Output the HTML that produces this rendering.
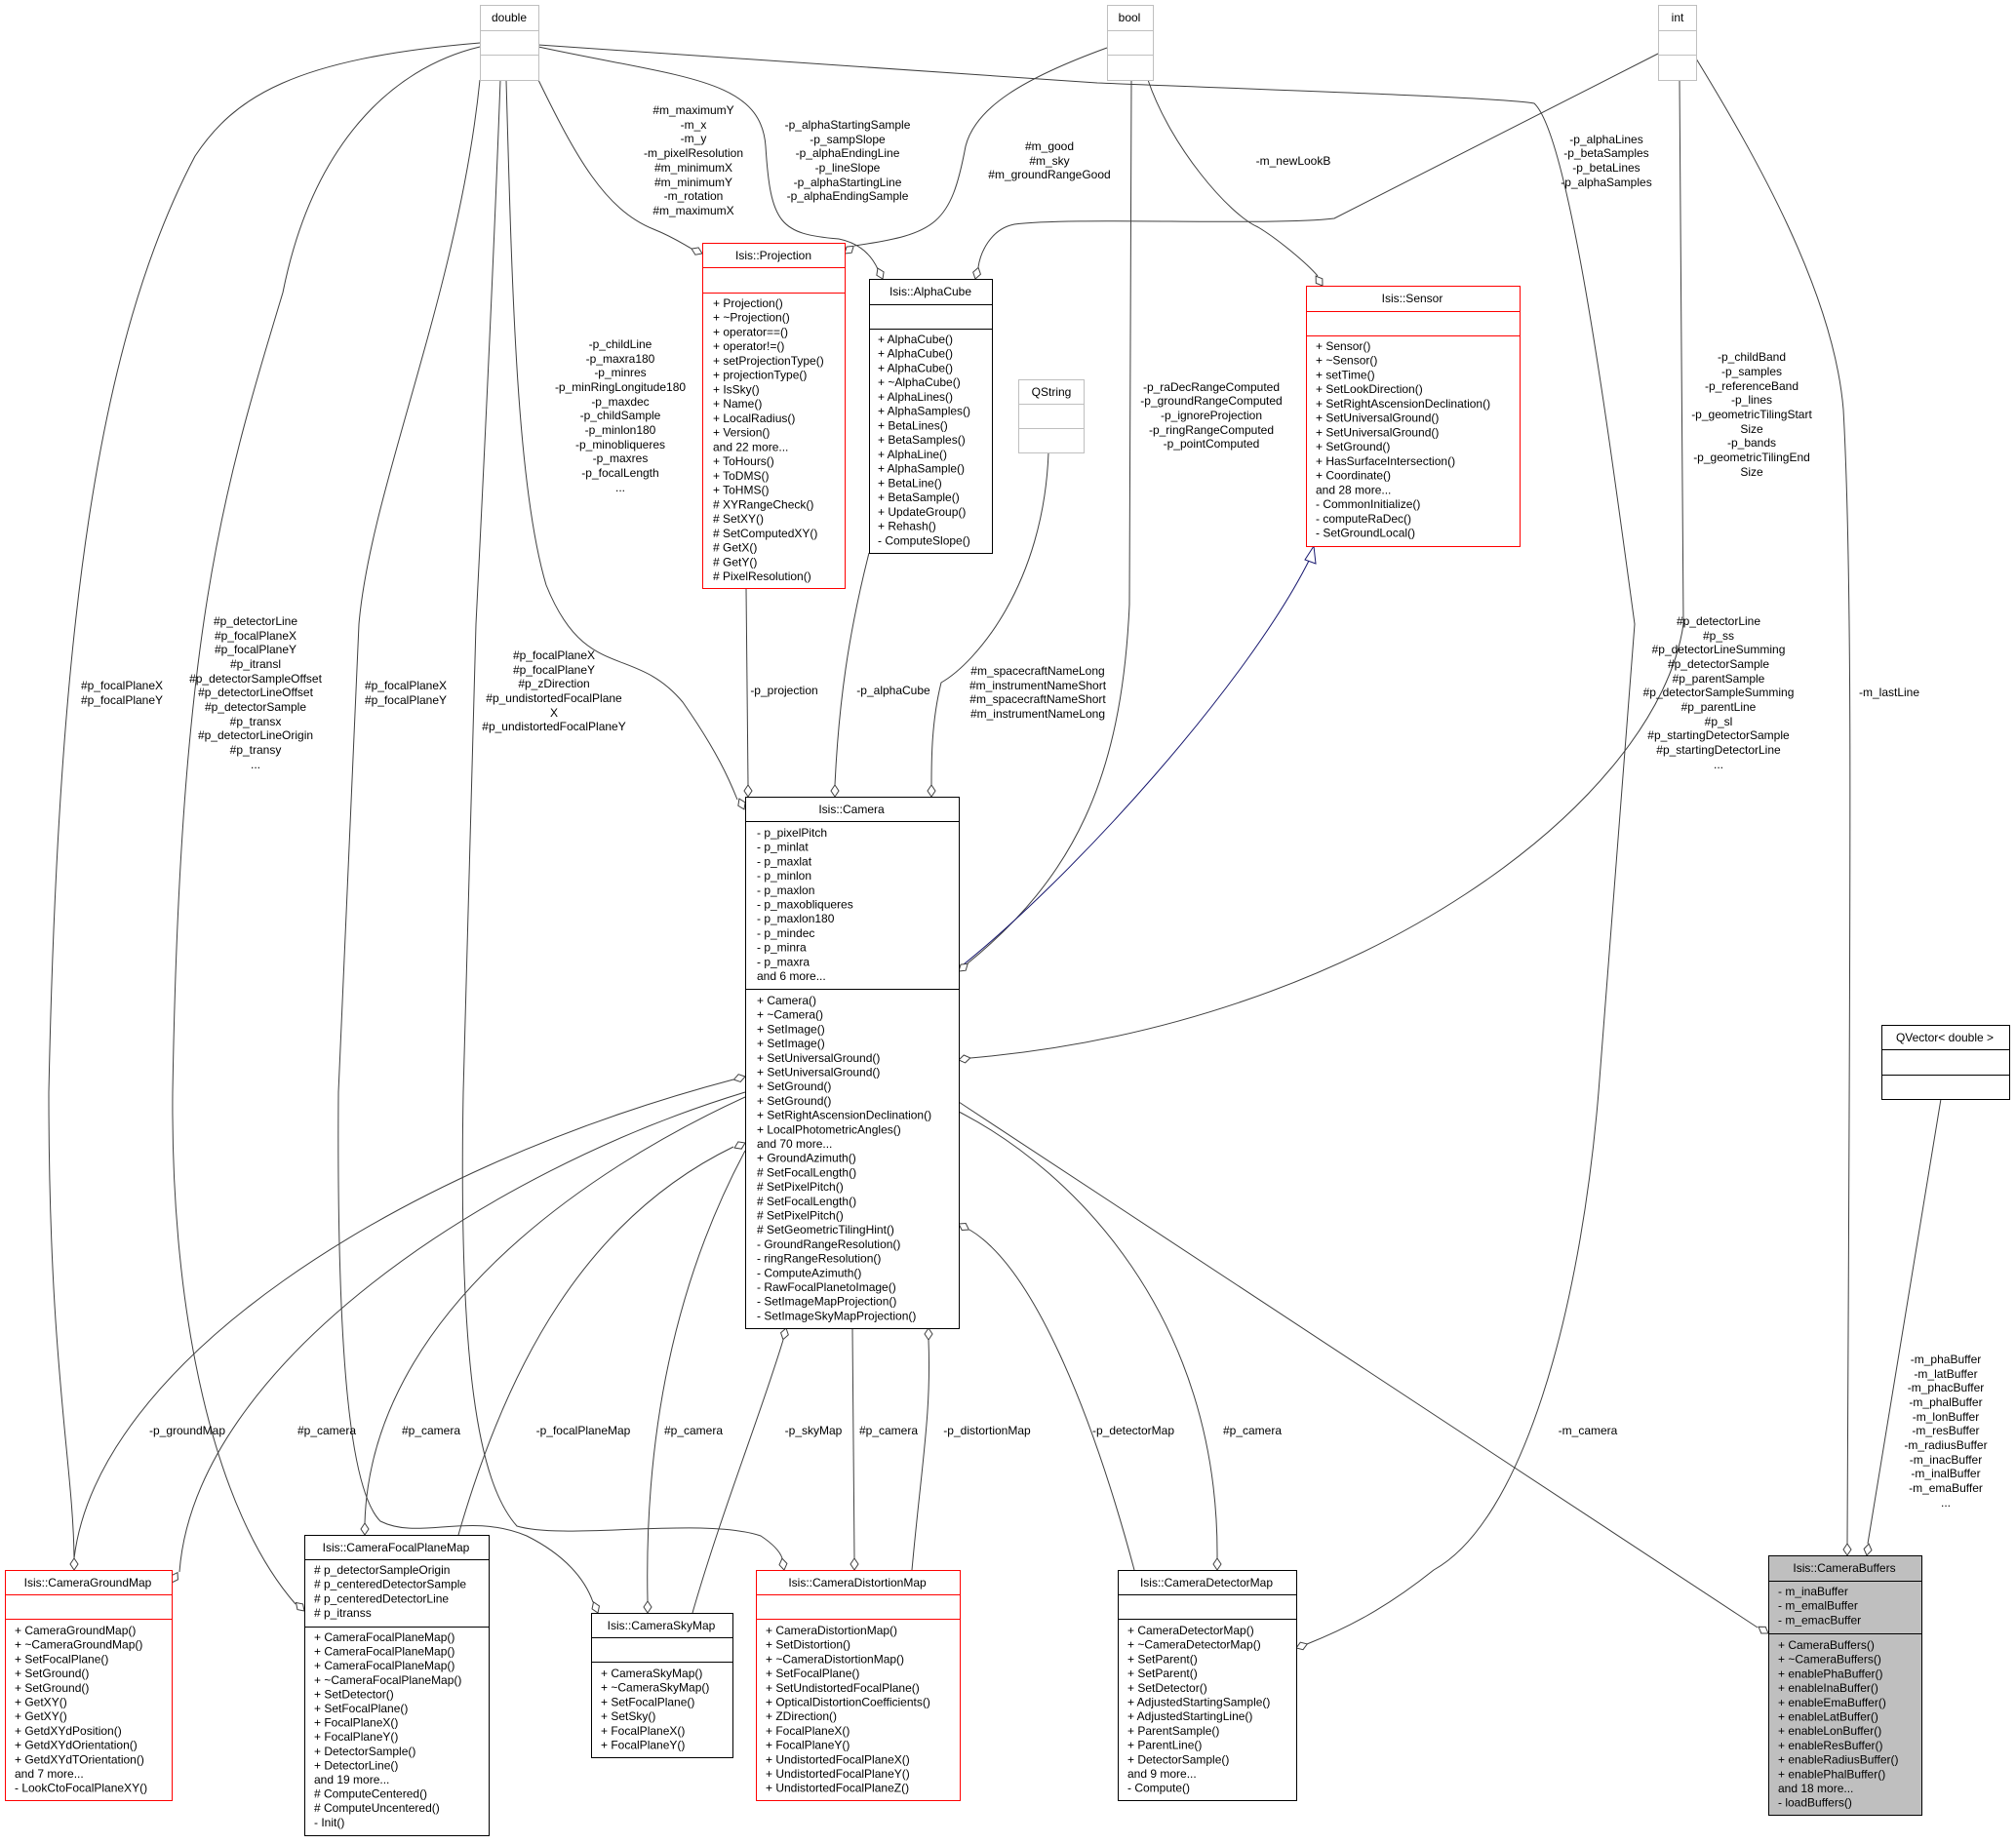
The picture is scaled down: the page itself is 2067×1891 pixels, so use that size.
<!DOCTYPE html>
<html><head><meta charset="utf-8"><style>
body{margin:0;background:#fff}
svg{display:block}
text{font-family:"Liberation Sans",Arial,sans-serif;font-size:12px;fill:#000}
.e{fill:none;stroke:#404040;stroke-width:1}
.d{fill:#fff;stroke:#404040;stroke-width:1}
.m{text-anchor:middle}
</style></head><body>
<svg width="2067" height="1891" viewBox="0 0 2067 1891" xmlns="http://www.w3.org/2000/svg">
<rect width="2067" height="1891" fill="#fff"/>
<!-- connectors -->
<path class="e" d="M552,82 C590,160 620,215 670,235 C690,243 700,250 709,255"/>
<path class="e" d="M552,48 C700,80 780,80 785,150 C790,230 800,240 860,245 C885,250 895,265 900,276"/>
<path class="e" d="M1135,49 C1050,80 1000,110 990,150 C975,230 960,240 876,252"/>
<path class="e" d="M1700,55 L1368,224 C1300,232 1100,222 1040,230 C1015,235 1005,260 1003,274"/>
<path class="e" d="M1177,82 C1200,150 1260,220 1290,233 C1310,245 1340,270 1351,283"/>
<path class="e" d="M552,46 L1125,85 C1300,92 1540,100 1573,106 C1610,140 1650,450 1676,640 L1639,1120 C1620,1350 1560,1560 1470,1610 C1420,1650 1380,1670 1340,1686"/>
<path class="e" d="M1722,82 L1726,640 C1700,820 1400,1050 995,1085"/>
<path class="e" d="M1739,60 C1800,160 1880,300 1890,420 C1900,600 1897,900 1894,1583"/>
<path class="e" d="M1990,1127 L1915,1583"/>
<path class="e" d="M519,82 C525,300 530,500 560,600 C600,700 650,660 700,720 C735,770 748,800 756,820"/>
<path class="e" d="M492,44 C300,60 240,100 200,160 C100,350 60,640 50,1120 C50,1400 75,1500 76,1598"/>
<path class="e" d="M492,48 C400,70 320,150 290,300 C230,500 185,640 177,1120 C175,1350 220,1550 303,1645"/>
<path class="e" d="M492,82 C470,300 380,500 368,640 L347,1120 C345,1400 360,1530 390,1560 C430,1580 480,1550 540,1575 C580,1595 600,1620 608,1643"/>
<path class="e" d="M513,82 C505,300 495,500 488,640 L475,1120 C470,1400 490,1520 530,1565 C580,1580 720,1555 780,1575 C795,1585 800,1592 802,1598"/>
<path class="e" d="M765,603 L767,805"/>
<path class="e" d="M891,567 C870,650 860,720 856,805"/>
<path class="e" d="M1075,464 C1070,600 1000,680 965,700 C955,740 955,780 955,805"/>
<path class="e" d="M1160,82 L1158,620 C1150,800 1100,900 992,988"/>
<path d="M983,993 C1100,900 1280,700 1343,573" fill="none" stroke="#191970"/>
<polygon points="1347,560 1338,574 1349,578" fill="#fff" stroke="#191970"/>
<path class="e" d="M76,1598 C100,1400 400,1200 752,1107"/>
<path class="e" d="M764,1120 C500,1200 200,1400 184,1612"/>
<path class="e" d="M764,1125 C600,1200 380,1350 374,1562"/>
<path class="e" d="M470,1574 C520,1400 600,1250 752,1176"/>
<path class="e" d="M764,1180 C700,1300 660,1450 664,1642"/>
<path class="e" d="M710,1654 C740,1550 780,1450 803,1374"/>
<path class="e" d="M874,1362 L876,1598"/>
<path class="e" d="M935,1610 C945,1500 955,1450 952,1374"/>
<path class="e" d="M1163,1610 C1120,1450 1060,1300 994,1261"/>
<path class="e" d="M983,1140 C1100,1200 1250,1350 1248,1598"/>
<path class="e" d="M983,1130 L1802,1669"/>
<!-- diamonds -->
<g>
<polygon class="d" transform="translate(720,260) rotate(-156)" points="0,0 6,-4 12,0 6,4"/>
<polygon class="d" transform="translate(905,286) rotate(-115)" points="0,0 6,-4 12,0 6,4"/>
<polygon class="d" transform="translate(866,260) rotate(-40)" points="0,0 6,-4 12,0 6,4"/>
<polygon class="d" transform="translate(1000,286) rotate(-75)" points="0,0 6,-4 12,0 6,4"/>
<polygon class="d" transform="translate(1356,293) rotate(-125)" points="0,0 6,-4 12,0 6,4"/>
<polygon class="d" transform="translate(1329,1690) rotate(-20)" points="0,0 6,-4 12,0 6,4"/>
<polygon class="d" transform="translate(983,1087) rotate(-10)" points="0,0 6,-4 12,0 6,4"/>
<polygon class="d" transform="translate(1894,1595) rotate(-90)" points="0,0 6,-4 12,0 6,4"/>
<polygon class="d" transform="translate(1914,1595) rotate(-80)" points="0,0 6,-4 12,0 6,4"/>
<polygon class="d" transform="translate(763,830) rotate(-115)" points="0,0 6,-4 12,0 6,4"/>
<polygon class="d" transform="translate(76,1610) rotate(-90)" points="0,0 6,-4 12,0 6,4"/>
<polygon class="d" transform="translate(312,1652) rotate(-135)" points="0,0 6,-4 12,0 6,4"/>
<polygon class="d" transform="translate(613,1654) rotate(-112)" points="0,0 6,-4 12,0 6,4"/>
<polygon class="d" transform="translate(804,1610) rotate(-100)" points="0,0 6,-4 12,0 6,4"/>
<polygon class="d" transform="translate(767,817) rotate(-90)" points="0,0 6,-4 12,0 6,4"/>
<polygon class="d" transform="translate(856,817) rotate(-90)" points="0,0 6,-4 12,0 6,4"/>
<polygon class="d" transform="translate(955,817) rotate(-90)" points="0,0 6,-4 12,0 6,4"/>
<polygon class="d" transform="translate(983,996) rotate(-40)" points="0,0 6,-4 12,0 6,4"/>
<polygon class="d" transform="translate(764,1104) rotate(165)" points="0,0 6,-4 12,0 6,4"/>
<polygon class="d" transform="translate(176,1623) rotate(-60)" points="0,0 6,-4 12,0 6,4"/>
<polygon class="d" transform="translate(374,1574) rotate(-90)" points="0,0 6,-4 12,0 6,4"/>
<polygon class="d" transform="translate(764,1172) rotate(155)" points="0,0 6,-4 12,0 6,4"/>
<polygon class="d" transform="translate(664,1654) rotate(-90)" points="0,0 6,-4 12,0 6,4"/>
<polygon class="d" transform="translate(806,1362) rotate(105)" points="0,0 6,-4 12,0 6,4"/>
<polygon class="d" transform="translate(876,1610) rotate(-90)" points="0,0 6,-4 12,0 6,4"/>
<polygon class="d" transform="translate(952,1362) rotate(90)" points="0,0 6,-4 12,0 6,4"/>
<polygon class="d" transform="translate(983,1255) rotate(30)" points="0,0 6,-4 12,0 6,4"/>
<polygon class="d" transform="translate(1248,1610) rotate(-90)" points="0,0 6,-4 12,0 6,4"/>
<polygon class="d" transform="translate(1813,1675) rotate(-146)" points="0,0 6,-4 12,0 6,4"/>
</g>
<!-- edge labels -->
<g class="m">
<text class="m" x="711" y="117">#m_maximumY</text><text class="m" x="711" y="132">-m_x</text><text class="m" x="711" y="146">-m_y</text><text class="m" x="711" y="161">-m_pixelResolution</text><text class="m" x="711" y="176">#m_minimumX</text><text class="m" x="711" y="191">#m_minimumY</text><text class="m" x="711" y="205">-m_rotation</text><text class="m" x="711" y="220">#m_maximumX</text>
<text class="m" x="869" y="132">-p_alphaStartingSample</text><text class="m" x="869" y="147">-p_sampSlope</text><text class="m" x="869" y="161">-p_alphaEndingLine</text><text class="m" x="869" y="176">-p_lineSlope</text><text class="m" x="869" y="191">-p_alphaStartingLine</text><text class="m" x="869" y="205">-p_alphaEndingSample</text>
<text class="m" x="1076" y="154">#m_good</text><text class="m" x="1076" y="169">#m_sky</text><text class="m" x="1076" y="183">#m_groundRangeGood</text>
<text class="m" x="1326" y="169">-m_newLookB</text>
<text class="m" x="1647" y="147">-p_alphaLines</text><text class="m" x="1647" y="161">-p_betaSamples</text><text class="m" x="1647" y="176">-p_betaLines</text><text class="m" x="1647" y="191">-p_alphaSamples</text>
<text class="m" x="1242" y="401">-p_raDecRangeComputed</text><text class="m" x="1242" y="415">-p_groundRangeComputed</text><text class="m" x="1242" y="430">-p_ignoreProjection</text><text class="m" x="1242" y="445">-p_ringRangeComputed</text><text class="m" x="1242" y="459">-p_pointComputed</text>
<text class="m" x="1796" y="370">-p_childBand</text><text class="m" x="1796" y="385">-p_samples</text><text class="m" x="1796" y="400">-p_referenceBand</text><text class="m" x="1796" y="414">-p_lines</text><text class="m" x="1796" y="429">-p_geometricTilingStart</text><text class="m" x="1796" y="444">Size</text><text class="m" x="1796" y="458">-p_bands</text><text class="m" x="1796" y="473">-p_geometricTilingEnd</text><text class="m" x="1796" y="488">Size</text>
<text class="m" x="636" y="357">-p_childLine</text><text class="m" x="636" y="372">-p_maxra180</text><text class="m" x="636" y="386">-p_minres</text><text class="m" x="636" y="401">-p_minRingLongitude180</text><text class="m" x="636" y="416">-p_maxdec</text><text class="m" x="636" y="430">-p_childSample</text><text class="m" x="636" y="445">-p_minlon180</text><text class="m" x="636" y="460">-p_minobliqueres</text><text class="m" x="636" y="474">-p_maxres</text><text class="m" x="636" y="489">-p_focalLength</text><text class="m" x="636" y="504">...</text>
<text class="m" x="125" y="707">#p_focalPlaneX</text><text class="m" x="125" y="722">#p_focalPlaneY</text>
<text class="m" x="262" y="641">#p_detectorLine</text><text class="m" x="262" y="656">#p_focalPlaneX</text><text class="m" x="262" y="670">#p_focalPlaneY</text><text class="m" x="262" y="685">#p_itransl</text><text class="m" x="262" y="700">#p_detectorSampleOffset</text><text class="m" x="262" y="714">#p_detectorLineOffset</text><text class="m" x="262" y="729">#p_detectorSample</text><text class="m" x="262" y="744">#p_transx</text><text class="m" x="262" y="758">#p_detectorLineOrigin</text><text class="m" x="262" y="773">#p_transy</text><text class="m" x="262" y="788">...</text>
<text class="m" x="416" y="707">#p_focalPlaneX</text><text class="m" x="416" y="722">#p_focalPlaneY</text>
<text class="m" x="568" y="676">#p_focalPlaneX</text><text class="m" x="568" y="691">#p_focalPlaneY</text><text class="m" x="568" y="705">#p_zDirection</text><text class="m" x="568" y="720">#p_undistortedFocalPlane</text><text class="m" x="568" y="735">X</text><text class="m" x="568" y="749">#p_undistortedFocalPlaneY</text>
<text class="m" x="804" y="712">-p_projection</text><text class="m" x="916" y="712">-p_alphaCube</text>
<text class="m" x="1064" y="692">#m_spacecraftNameLong</text><text class="m" x="1064" y="707">#m_instrumentNameShort</text><text class="m" x="1064" y="721">#m_spacecraftNameShort</text><text class="m" x="1064" y="736">#m_instrumentNameLong</text>
<text class="m" x="1762" y="641">#p_detectorLine</text><text class="m" x="1762" y="656">#p_ss</text><text class="m" x="1762" y="670">#p_detectorLineSumming</text><text class="m" x="1762" y="685">#p_detectorSample</text><text class="m" x="1762" y="700">#p_parentSample</text><text class="m" x="1762" y="714">#p_detectorSampleSumming</text><text class="m" x="1762" y="729">#p_parentLine</text><text class="m" x="1762" y="744">#p_sl</text><text class="m" x="1762" y="758">#p_startingDetectorSample</text><text class="m" x="1762" y="773">#p_startingDetectorLine</text><text class="m" x="1762" y="788">...</text>
<text class="m" x="1937" y="714">-m_lastLine</text>
<text class="m" x="192" y="1471">-p_groundMap</text><text class="m" x="335" y="1471">#p_camera</text><text class="m" x="442" y="1471">#p_camera</text><text class="m" x="598" y="1471">-p_focalPlaneMap</text><text class="m" x="711" y="1471">#p_camera</text><text class="m" x="834" y="1471">-p_skyMap</text><text class="m" x="911" y="1471">#p_camera</text><text class="m" x="1012" y="1471">-p_distortionMap</text><text class="m" x="1162" y="1471">-p_detectorMap</text><text class="m" x="1284" y="1471">#p_camera</text><text class="m" x="1628" y="1471">-m_camera</text>
<text class="m" x="1995" y="1398">-m_phaBuffer</text><text class="m" x="1995" y="1413">-m_latBuffer</text><text class="m" x="1995" y="1427">-m_phacBuffer</text><text class="m" x="1995" y="1442">-m_phalBuffer</text><text class="m" x="1995" y="1457">-m_lonBuffer</text><text class="m" x="1995" y="1471">-m_resBuffer</text><text class="m" x="1995" y="1486">-m_radiusBuffer</text><text class="m" x="1995" y="1501">-m_inacBuffer</text><text class="m" x="1995" y="1515">-m_inalBuffer</text><text class="m" x="1995" y="1530">-m_emaBuffer</text><text class="m" x="1995" y="1545">...</text>
</g>
<!-- primitive boxes -->
<g fill="#fff" stroke="#bfbfbf">
<rect x="492.5" y="5.5" width="60" height="77"/><line x1="492" y1="31.5" x2="552" y2="31.5"/><line x1="492" y1="56.5" x2="552" y2="56.5"/>
<rect x="1135.5" y="5.5" width="47" height="77"/><line x1="1135" y1="31.5" x2="1182" y2="31.5"/><line x1="1135" y1="56.5" x2="1182" y2="56.5"/>
<rect x="1700.5" y="5.5" width="39" height="77"/><line x1="1700" y1="31.5" x2="1739" y2="31.5"/><line x1="1700" y1="56.5" x2="1739" y2="56.5"/>
<rect x="1044.5" y="389.5" width="67" height="75"/><line x1="1044" y1="414.5" x2="1111" y2="414.5"/><line x1="1044" y1="439.5" x2="1111" y2="439.5"/>
</g>
<text class="m" x="522" y="22">double</text><text class="m" x="1158" y="22">bool</text><text class="m" x="1720" y="22">int</text><text class="m" x="1078" y="406">QString</text>
<!-- class boxes -->
<g fill="#fff" stroke="#ff0000">
<rect x="720.5" y="249.5" width="146" height="354"/><line x1="720" y1="274.5" x2="866" y2="274.5"/><line x1="720" y1="300.5" x2="866" y2="300.5"/>
<rect x="1339.5" y="293.5" width="219" height="267"/><line x1="1339" y1="319.5" x2="1558" y2="319.5"/><line x1="1339" y1="344.5" x2="1558" y2="344.5"/>
<rect x="5.5" y="1610.5" width="171" height="236"/><line x1="5" y1="1635.5" x2="176" y2="1635.5"/><line x1="5" y1="1660.5" x2="176" y2="1660.5"/>
<rect x="775.5" y="1610.5" width="209" height="236"/><line x1="775" y1="1635.5" x2="984" y2="1635.5"/><line x1="775" y1="1660.5" x2="984" y2="1660.5"/>
</g>
<g fill="#fff" stroke="#000">
<rect x="891.5" y="286.5" width="126" height="281"/><line x1="891" y1="312.5" x2="1017" y2="312.5"/><line x1="891" y1="337.5" x2="1017" y2="337.5"/>
<rect x="764.5" y="817.5" width="219" height="545"/><line x1="764" y1="842.5" x2="983" y2="842.5"/><line x1="764" y1="1014.5" x2="983" y2="1014.5"/>
<rect x="1929.5" y="1051.5" width="131" height="76"/><line x1="1929" y1="1076.5" x2="2060" y2="1076.5"/><line x1="1929" y1="1102.5" x2="2060" y2="1102.5"/>
<rect x="312.5" y="1574.5" width="189" height="308"/><line x1="312" y1="1599.5" x2="501" y2="1599.5"/><line x1="312" y1="1668.5" x2="501" y2="1668.5"/>
<rect x="606.5" y="1654.5" width="145" height="148"/><line x1="606" y1="1679.5" x2="751" y2="1679.5"/><line x1="606" y1="1704.5" x2="751" y2="1704.5"/>
<rect x="1146.5" y="1610.5" width="183" height="236"/><line x1="1146" y1="1635.5" x2="1329" y2="1635.5"/><line x1="1146" y1="1660.5" x2="1329" y2="1660.5"/>
<rect x="1813.5" y="1595.5" width="157" height="266" fill="#bfbfbf"/><line x1="1813" y1="1621.5" x2="1970" y2="1621.5"/><line x1="1813" y1="1675.5" x2="1970" y2="1675.5"/>
</g>
<text class="m" x="793" y="266">Isis::Projection</text>
<text class="m" x="954" y="303">Isis::AlphaCube</text>
<text class="m" x="1448" y="310">Isis::Sensor</text>
<text class="m" x="873" y="834">Isis::Camera</text>
<text class="m" x="1994" y="1068">QVector&lt; double &gt;</text>
<text class="m" x="90" y="1627">Isis::CameraGroundMap</text>
<text class="m" x="406" y="1591">Isis::CameraFocalPlaneMap</text>
<text class="m" x="678" y="1671">Isis::CameraSkyMap</text>
<text class="m" x="879" y="1627">Isis::CameraDistortionMap</text>
<text class="m" x="1237" y="1627">Isis::CameraDetectorMap</text>
<text class="m" x="1891" y="1612">Isis::CameraBuffers</text>
<!-- members -->
<text x="731" y="315"><tspan x="731" dy="0">+ Projection()</tspan><tspan x="731" dy="14.74">+ ~Projection()</tspan><tspan x="731" dy="14.74">+ operator==()</tspan><tspan x="731" dy="14.74">+ operator!=()</tspan><tspan x="731" dy="14.74">+ setProjectionType()</tspan><tspan x="731" dy="14.74">+ projectionType()</tspan><tspan x="731" dy="14.74">+ IsSky()</tspan><tspan x="731" dy="14.74">+ Name()</tspan><tspan x="731" dy="14.74">+ LocalRadius()</tspan><tspan x="731" dy="14.74">+ Version()</tspan><tspan x="731" dy="14.74">and 22 more...</tspan><tspan x="731" dy="14.74">+ ToHours()</tspan><tspan x="731" dy="14.74">+ ToDMS()</tspan><tspan x="731" dy="14.74">+ ToHMS()</tspan><tspan x="731" dy="14.74"># XYRangeCheck()</tspan><tspan x="731" dy="14.74"># SetXY()</tspan><tspan x="731" dy="14.74"># SetComputedXY()</tspan><tspan x="731" dy="14.74"># GetX()</tspan><tspan x="731" dy="14.74"># GetY()</tspan><tspan x="731" dy="14.74"># PixelResolution()</tspan></text>
<text x="900" y="352"><tspan x="900" dy="0">+ AlphaCube()</tspan><tspan x="900" dy="14.74">+ AlphaCube()</tspan><tspan x="900" dy="14.74">+ AlphaCube()</tspan><tspan x="900" dy="14.74">+ ~AlphaCube()</tspan><tspan x="900" dy="14.74">+ AlphaLines()</tspan><tspan x="900" dy="14.74">+ AlphaSamples()</tspan><tspan x="900" dy="14.74">+ BetaLines()</tspan><tspan x="900" dy="14.74">+ BetaSamples()</tspan><tspan x="900" dy="14.74">+ AlphaLine()</tspan><tspan x="900" dy="14.74">+ AlphaSample()</tspan><tspan x="900" dy="14.74">+ BetaLine()</tspan><tspan x="900" dy="14.74">+ BetaSample()</tspan><tspan x="900" dy="14.74">+ UpdateGroup()</tspan><tspan x="900" dy="14.74">+ Rehash()</tspan><tspan x="900" dy="14.74">- ComputeSlope()</tspan></text>
<text x="1349" y="359"><tspan x="1349" dy="0">+ Sensor()</tspan><tspan x="1349" dy="14.74">+ ~Sensor()</tspan><tspan x="1349" dy="14.74">+ setTime()</tspan><tspan x="1349" dy="14.74">+ SetLookDirection()</tspan><tspan x="1349" dy="14.74">+ SetRightAscensionDeclination()</tspan><tspan x="1349" dy="14.74">+ SetUniversalGround()</tspan><tspan x="1349" dy="14.74">+ SetUniversalGround()</tspan><tspan x="1349" dy="14.74">+ SetGround()</tspan><tspan x="1349" dy="14.74">+ HasSurfaceIntersection()</tspan><tspan x="1349" dy="14.74">+ Coordinate()</tspan><tspan x="1349" dy="14.74">and 28 more...</tspan><tspan x="1349" dy="14.74">- CommonInitialize()</tspan><tspan x="1349" dy="14.74">- computeRaDec()</tspan><tspan x="1349" dy="14.74">- SetGroundLocal()</tspan></text>
<text x="776" y="858"><tspan x="776" dy="0">- p_pixelPitch</tspan><tspan x="776" dy="14.7">- p_minlat</tspan><tspan x="776" dy="14.7">- p_maxlat</tspan><tspan x="776" dy="14.7">- p_minlon</tspan><tspan x="776" dy="14.7">- p_maxlon</tspan><tspan x="776" dy="14.7">- p_maxobliqueres</tspan><tspan x="776" dy="14.7">- p_maxlon180</tspan><tspan x="776" dy="14.7">- p_mindec</tspan><tspan x="776" dy="14.7">- p_minra</tspan><tspan x="776" dy="14.7">- p_maxra</tspan><tspan x="776" dy="14.7">and 6 more...</tspan></text>
<text x="776" y="1030"><tspan x="776" dy="0">+ Camera()</tspan><tspan x="776" dy="14.7">+ ~Camera()</tspan><tspan x="776" dy="14.7">+ SetImage()</tspan><tspan x="776" dy="14.7">+ SetImage()</tspan><tspan x="776" dy="14.7">+ SetUniversalGround()</tspan><tspan x="776" dy="14.7">+ SetUniversalGround()</tspan><tspan x="776" dy="14.7">+ SetGround()</tspan><tspan x="776" dy="14.7">+ SetGround()</tspan><tspan x="776" dy="14.7">+ SetRightAscensionDeclination()</tspan><tspan x="776" dy="14.7">+ LocalPhotometricAngles()</tspan><tspan x="776" dy="14.7">and 70 more...</tspan><tspan x="776" dy="14.7">+ GroundAzimuth()</tspan><tspan x="776" dy="14.7"># SetFocalLength()</tspan><tspan x="776" dy="14.7"># SetPixelPitch()</tspan><tspan x="776" dy="14.7"># SetFocalLength()</tspan><tspan x="776" dy="14.7"># SetPixelPitch()</tspan><tspan x="776" dy="14.7"># SetGeometricTilingHint()</tspan><tspan x="776" dy="14.7">- GroundRangeResolution()</tspan><tspan x="776" dy="14.7">- ringRangeResolution()</tspan><tspan x="776" dy="14.7">- ComputeAzimuth()</tspan><tspan x="776" dy="14.7">- RawFocalPlanetoImage()</tspan><tspan x="776" dy="14.7">- SetImageMapProjection()</tspan><tspan x="776" dy="14.7">- SetImageSkyMapProjection()</tspan></text>
<text x="15" y="1676"><tspan x="15" dy="0">+ CameraGroundMap()</tspan><tspan x="15" dy="14.7">+ ~CameraGroundMap()</tspan><tspan x="15" dy="14.7">+ SetFocalPlane()</tspan><tspan x="15" dy="14.7">+ SetGround()</tspan><tspan x="15" dy="14.7">+ SetGround()</tspan><tspan x="15" dy="14.7">+ GetXY()</tspan><tspan x="15" dy="14.7">+ GetXY()</tspan><tspan x="15" dy="14.7">+ GetdXYdPosition()</tspan><tspan x="15" dy="14.7">+ GetdXYdOrientation()</tspan><tspan x="15" dy="14.7">+ GetdXYdTOrientation()</tspan><tspan x="15" dy="14.7">and 7 more...</tspan><tspan x="15" dy="14.7">- LookCtoFocalPlaneXY()</tspan></text>
<text x="322" y="1614"><tspan x="322" dy="0"># p_detectorSampleOrigin</tspan><tspan x="322" dy="14.7"># p_centeredDetectorSample</tspan><tspan x="322" dy="14.7"># p_centeredDetectorLine</tspan><tspan x="322" dy="14.7"># p_itranss</tspan></text>
<text x="322" y="1683"><tspan x="322" dy="0">+ CameraFocalPlaneMap()</tspan><tspan x="322" dy="14.6">+ CameraFocalPlaneMap()</tspan><tspan x="322" dy="14.6">+ CameraFocalPlaneMap()</tspan><tspan x="322" dy="14.6">+ ~CameraFocalPlaneMap()</tspan><tspan x="322" dy="14.6">+ SetDetector()</tspan><tspan x="322" dy="14.6">+ SetFocalPlane()</tspan><tspan x="322" dy="14.6">+ FocalPlaneX()</tspan><tspan x="322" dy="14.6">+ FocalPlaneY()</tspan><tspan x="322" dy="14.6">+ DetectorSample()</tspan><tspan x="322" dy="14.6">+ DetectorLine()</tspan><tspan x="322" dy="14.6">and 19 more...</tspan><tspan x="322" dy="14.6"># ComputeCentered()</tspan><tspan x="322" dy="14.6"># ComputeUncentered()</tspan><tspan x="322" dy="14.6">- Init()</tspan></text>
<text x="616" y="1720"><tspan x="616" dy="0">+ CameraSkyMap()</tspan><tspan x="616" dy="14.7">+ ~CameraSkyMap()</tspan><tspan x="616" dy="14.7">+ SetFocalPlane()</tspan><tspan x="616" dy="14.7">+ SetSky()</tspan><tspan x="616" dy="14.7">+ FocalPlaneX()</tspan><tspan x="616" dy="14.7">+ FocalPlaneY()</tspan></text>
<text x="785" y="1676"><tspan x="785" dy="0">+ CameraDistortionMap()</tspan><tspan x="785" dy="14.7">+ SetDistortion()</tspan><tspan x="785" dy="14.7">+ ~CameraDistortionMap()</tspan><tspan x="785" dy="14.7">+ SetFocalPlane()</tspan><tspan x="785" dy="14.7">+ SetUndistortedFocalPlane()</tspan><tspan x="785" dy="14.7">+ OpticalDistortionCoefficients()</tspan><tspan x="785" dy="14.7">+ ZDirection()</tspan><tspan x="785" dy="14.7">+ FocalPlaneX()</tspan><tspan x="785" dy="14.7">+ FocalPlaneY()</tspan><tspan x="785" dy="14.7">+ UndistortedFocalPlaneX()</tspan><tspan x="785" dy="14.7">+ UndistortedFocalPlaneY()</tspan><tspan x="785" dy="14.7">+ UndistortedFocalPlaneZ()</tspan></text>
<text x="1156" y="1676"><tspan x="1156" dy="0">+ CameraDetectorMap()</tspan><tspan x="1156" dy="14.7">+ ~CameraDetectorMap()</tspan><tspan x="1156" dy="14.7">+ SetParent()</tspan><tspan x="1156" dy="14.7">+ SetParent()</tspan><tspan x="1156" dy="14.7">+ SetDetector()</tspan><tspan x="1156" dy="14.7">+ AdjustedStartingSample()</tspan><tspan x="1156" dy="14.7">+ AdjustedStartingLine()</tspan><tspan x="1156" dy="14.7">+ ParentSample()</tspan><tspan x="1156" dy="14.7">+ ParentLine()</tspan><tspan x="1156" dy="14.7">+ DetectorSample()</tspan><tspan x="1156" dy="14.7">and 9 more...</tspan><tspan x="1156" dy="14.7">- Compute()</tspan></text>
<text x="1823" y="1636"><tspan x="1823" dy="0">- m_inaBuffer</tspan><tspan x="1823" dy="14.7">- m_emalBuffer</tspan><tspan x="1823" dy="14.7">- m_emacBuffer</tspan></text>
<text x="1823" y="1691"><tspan x="1823" dy="0">+ CameraBuffers()</tspan><tspan x="1823" dy="14.7">+ ~CameraBuffers()</tspan><tspan x="1823" dy="14.7">+ enablePhaBuffer()</tspan><tspan x="1823" dy="14.7">+ enableInaBuffer()</tspan><tspan x="1823" dy="14.7">+ enableEmaBuffer()</tspan><tspan x="1823" dy="14.7">+ enableLatBuffer()</tspan><tspan x="1823" dy="14.7">+ enableLonBuffer()</tspan><tspan x="1823" dy="14.7">+ enableResBuffer()</tspan><tspan x="1823" dy="14.7">+ enableRadiusBuffer()</tspan><tspan x="1823" dy="14.7">+ enablePhalBuffer()</tspan><tspan x="1823" dy="14.7">and 18 more...</tspan><tspan x="1823" dy="14.7">- loadBuffers()</tspan></text>
</svg>
</body></html>
